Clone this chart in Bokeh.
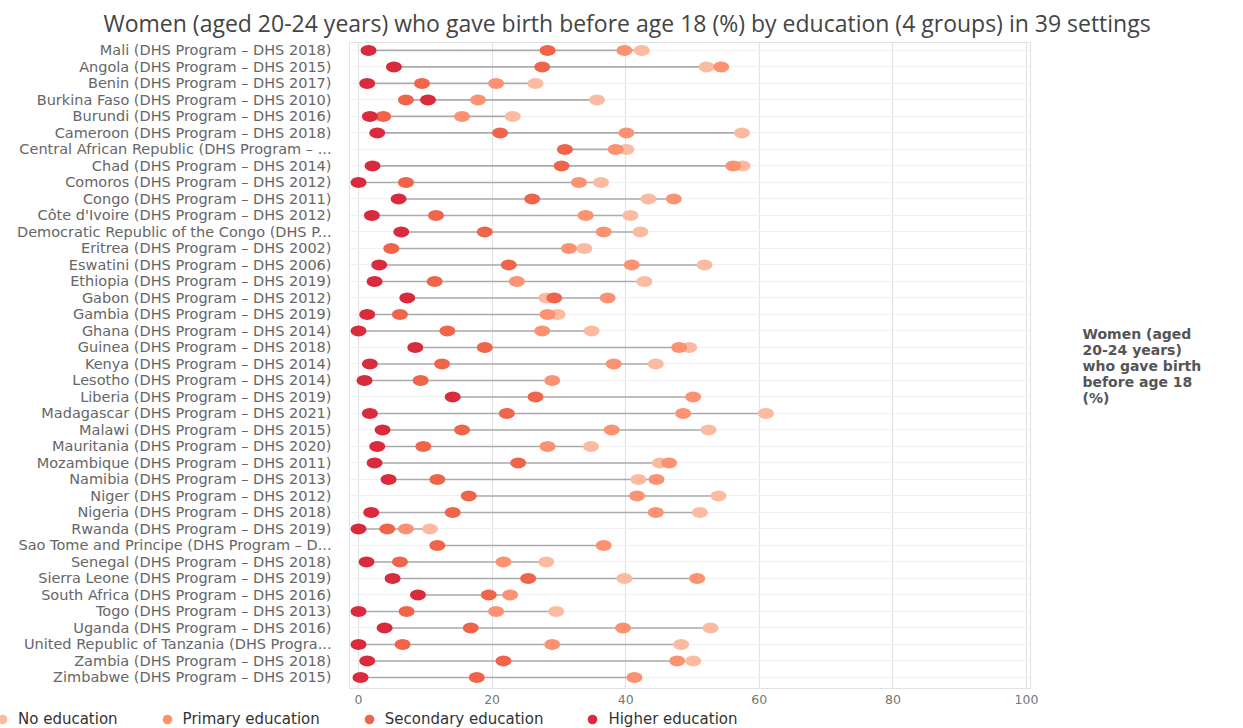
import numpy as np
from bokeh.plotting import figure
from bokeh.layouts import column
from bokeh.models import Range1d, FixedTicker, Legend, LegendItem, ColumnDataSource, LinearAxis
from bokeh.embed import file_html
from bokeh.resources import INLINE

nan = float("nan")

settings = [
    "Mali (DHS Program – DHS 2018)",
    "Angola (DHS Program – DHS 2015)",
    "Benin (DHS Program – DHS 2017)",
    "Burkina Faso (DHS Program – DHS 2010)",
    "Burundi (DHS Program – DHS 2016)",
    "Cameroon (DHS Program – DHS 2018)",
    "Central African Republic (DHS Program – ...",
    "Chad (DHS Program – DHS 2014)",
    "Comoros (DHS Program – DHS 2012)",
    "Congo (DHS Program – DHS 2011)",
    "Côte d'Ivoire (DHS Program – DHS 2012)",
    "Democratic Republic of the Congo (DHS P...",
    "Eritrea (DHS Program – DHS 2002)",
    "Eswatini (DHS Program – DHS 2006)",
    "Ethiopia (DHS Program – DHS 2019)",
    "Gabon (DHS Program – DHS 2012)",
    "Gambia (DHS Program – DHS 2019)",
    "Ghana (DHS Program – DHS 2014)",
    "Guinea (DHS Program – DHS 2018)",
    "Kenya (DHS Program – DHS 2014)",
    "Lesotho (DHS Program – DHS 2014)",
    "Liberia (DHS Program – DHS 2019)",
    "Madagascar (DHS Program – DHS 2021)",
    "Malawi (DHS Program – DHS 2015)",
    "Mauritania (DHS Program – DHS 2020)",
    "Mozambique (DHS Program – DHS 2011)",
    "Namibia (DHS Program – DHS 2013)",
    "Niger (DHS Program – DHS 2012)",
    "Nigeria (DHS Program – DHS 2018)",
    "Rwanda (DHS Program – DHS 2019)",
    "Sao Tome and Principe (DHS Program – D...",
    "Senegal (DHS Program – DHS 2018)",
    "Sierra Leone (DHS Program – DHS 2019)",
    "South Africa (DHS Program – DHS 2016)",
    "Togo (DHS Program – DHS 2013)",
    "Uganda (DHS Program – DHS 2016)",
    "United Republic of Tanzania (DHS Progra...",
    "Zambia (DHS Program – DHS 2018)",
    "Zimbabwe (DHS Program – DHS 2015)",
]

no_education = [42.4, 52.1, 26.5, 35.7, 23.1, 57.4, 40.1, 57.5, 36.3, 43.4,
                40.7, 42.2, 33.8, 51.8, 42.8, 28.1, 29.8, 34.9, 49.5, 44.5,
                nan, nan, 61.0, 52.4, 34.8, 45.1, 41.9, 53.9, 51.1, 10.7,
                nan, 28.1, 39.8, nan, 29.6, 52.7, 48.3, 50.1, nan]
primary_education = [39.8, 54.3, 20.6, 17.9, 15.5, 40.1, 38.5, 56.1, 33.0, 47.2,
                     34.0, 36.7, 31.5, 40.9, 23.7, 37.3, 28.3, 27.5, 48.0, 38.2,
                     29.0, 50.1, 48.6, 37.9, 28.3, 46.5, 44.6, 41.7, 44.5, 7.1,
                     36.7, 21.7, 50.7, 22.7, 20.6, 39.6, 29.0, 47.7, 41.3]
secondary_education = [28.3, 27.5, 9.5, 7.1, 3.7, 21.2, 30.9, 30.4, 7.1, 26.0,
                       11.6, 18.9, 4.9, 22.5, 11.4, 29.3, 6.2, 13.3, 18.9, 12.5,
                       9.3, 26.5, 22.2, 15.5, 9.7, 23.9, 11.8, 16.5, 14.1, 4.3,
                       11.8, 6.2, 25.4, 19.5, 7.2, 16.8, 6.6, 21.7, 17.7]
higher_education = [1.5, 5.3, 1.3, 10.4, 1.7, 2.8, nan, 2.1, 0.0, 6.0,
                    2.0, 6.4, nan, 3.1, 2.4, 7.3, 1.3, 0.0, 8.5, 1.7,
                    0.9, 14.1, 1.7, 3.6, 2.8, 2.4, 4.5, nan, 1.9, 0.0,
                    nan, 1.2, 5.1, 8.9, 0.0, 3.9, 0.0, 1.3, 0.3]

group_names = ["No education", "Primary education", "Secondary education", "Higher education"]
group_colors = ["#fcbba1", "#fc9272", "#f0654a", "#d92a3e"]
x_ticks = [0, 20, 40, 60, 80, 100]

title_text = "Women (aged 20-24 years) who gave birth before age 18 (%) by education (4 groups) in 39 settings"
side_text = "Women (aged\n20-24 years)\nwho gave birth\nbefore age 18\n(%)"

n = len(settings)
ys = [n - 1 - i for i in range(n)]
groups = [no_education, primary_education, secondary_education, higher_education]
arr = np.array(groups, dtype=float)
lo = np.nanmin(arr, axis=0)
hi = np.nanmax(arr, axis=0)

p = figure(width=1240, height=708, output_backend="svg", toolbar_location=None,
           x_range=Range1d(-1.35, 100.6), y_range=Range1d(-0.67, n - 1 + 0.48),
           min_border_left=349, min_border_right=210, min_border_top=41, min_border_bottom=20)
p.frame_align = False
p.background_fill_color = "white"
p.border_fill_color = "white"
p.outline_line_color = "#e2e2e2"

# title
p.title.text = title_text
p.title.align = "left"
p.title.offset = -246
p.title.text_font = "Open Sans"
p.title.text_font_size = "23px"
p.title.text_font_style = "normal"
p.title.text_color = "#444444"
p.title.standoff = 8

p.segment(x0=lo, y0=ys, x1=hi, y1=ys, line_color="#ababab", line_width=1.6)

for name, color, vals in zip(group_names, group_colors, groups):
    src = ColumnDataSource(dict(x=vals, y=ys))
    p.ellipse(x="x", y="y", width=16, height=11, width_units="screen", height_units="screen",
              fill_color=color, line_color=None, source=src)

# axes
p.xaxis.ticker = FixedTicker(ticks=x_ticks)
p.xaxis.axis_line_color = None
p.xaxis.major_tick_line_color = None
p.xaxis.minor_tick_line_color = None
p.xaxis.major_label_standoff = 0
p.xaxis.major_label_text_font = "DejaVu Sans"
p.xaxis.major_label_text_font_size = "12.5px"
p.xaxis.major_label_text_color = "#777777"

p.yaxis.ticker = FixedTicker(ticks=ys)
p.yaxis.major_label_overrides = {y: s for y, s in zip(ys, settings)}
p.yaxis.axis_line_color = None
p.yaxis.major_tick_line_color = None
p.yaxis.minor_tick_line_color = None
p.yaxis.major_label_standoff = 12
p.yaxis.major_label_text_font = "DejaVu Sans"
p.yaxis.major_label_text_font_size = "14.5px"
p.yaxis.major_label_text_color = "#666666"

p.xgrid.grid_line_color = "#e3e3e3"
p.xgrid.grid_line_width = 1.2
p.ygrid.grid_line_color = "#f0f0f0"

# side label as a right axis title
side = LinearAxis(ticker=FixedTicker(ticks=[]), axis_label=side_text,
                  axis_label_orientation="horizontal", axis_label_standoff=52,
                  axis_line_color=None, major_tick_line_color=None, minor_tick_line_color=None,
                  major_label_text_font_size="0px",
                  axis_label_text_font="DejaVu Sans", axis_label_text_font_style="bold",
                  axis_label_text_font_size="14px", axis_label_text_color="#555555",
                  axis_label_text_align="left", axis_label_text_line_height=1.0)
p.add_layout(side, "right")

# legend strip underneath, full width
lf = figure(width=1240, height=20, output_backend="svg", toolbar_location=None,
            x_range=Range1d(0, 1), y_range=Range1d(0, 1),
            x_axis_type=None, y_axis_type=None, min_border=0,
            min_border_left=0, min_border_right=0, min_border_top=0, min_border_bottom=0)
lf.frame_align = False
lf.outline_line_color = None
lf.grid.visible = False
items = []
for name, color in zip(group_names, group_colors):
    r = lf.scatter(x=[-5], y=[-5], marker="circle", size=15, fill_color=color, line_color=None)
    items.append(LegendItem(label=name, renderers=[r]))
legend = Legend(items=items, orientation="horizontal", location=(-10, -3),
                glyph_width=24, glyph_height=24, label_height=14, padding=0,
                spacing=37, label_standoff=4, margin=0,
                label_text_font="DejaVu Sans", label_text_font_size="15px",
                label_text_color="#333333", border_line_color=None,
                background_fill_alpha=0)
lf.add_layout(legend, "center")

open("out.html", "w").write(file_html(column(p, lf, spacing=0), INLINE))
